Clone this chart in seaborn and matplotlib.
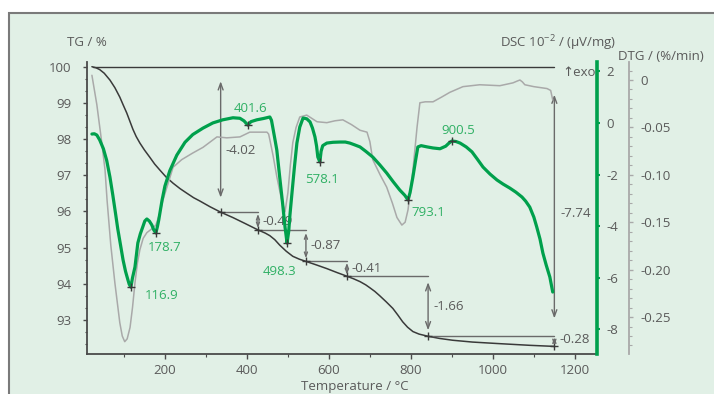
import matplotlib
matplotlib.use("Agg")
import matplotlib.pyplot as plt
import seaborn as sns
from matplotlib.patches import Rectangle
from matplotlib.ticker import MultipleLocator, AutoMinorLocator

# ---------------- data ----------------
tg_temp = [22, 32, 41, 52, 66, 78, 90, 98, 107, 115, 122, 130, 139, 150, 163, 175, 188, 203,
           220, 237, 254, 270, 285, 310, 336, 366, 395, 427, 445, 456, 468, 480, 496, 512,
           528, 544, 570, 595, 620, 644, 660, 676, 690, 700, 712, 724, 740, 756, 768, 780,
           792, 805, 820, 842, 870, 902, 950, 1010, 1090, 1150]
tg_val = [100.0, 99.97, 99.92, 99.82, 99.63, 99.42, 99.16, 98.95, 98.72, 98.48, 98.27, 98.07,
          97.89, 97.7, 97.5, 97.31, 97.14, 96.95, 96.78, 96.63, 96.5, 96.38, 96.29, 96.13,
          95.98, 95.83, 95.67, 95.49, 95.40, 95.33, 95.22, 95.07, 94.90, 94.76, 94.68, 94.62,
          94.52, 94.42, 94.31, 94.21, 94.14, 94.06, 93.97, 93.89, 93.79, 93.67, 93.50, 93.32,
          93.14, 92.95, 92.80, 92.68, 92.61, 92.55, 92.49, 92.44, 92.39, 92.35, 92.30, 92.27]

dsc_temp = [22, 28, 34, 41, 50, 58, 66, 73, 80, 85, 92, 98, 104, 110, 113, 117, 121, 127,
            134, 140, 146, 151, 156, 162, 168, 173, 178, 182, 185, 193, 200, 212, 229, 249,
            268, 293, 317, 341, 366, 383, 393, 402, 410, 424, 440, 456, 460, 463, 468, 473,
            480, 487, 493, 498, 502, 505, 510, 516, 522, 529, 537, 546, 554, 560, 566, 570,
            573, 578, 581, 585, 595, 610, 627, 640, 651, 663, 676, 690, 707, 724, 741, 757,
            773, 785, 793, 798, 805, 812, 817, 825, 840, 854, 871, 885, 893, 900, 910, 920,
            935, 949, 962, 976, 993, 1010, 1025, 1041, 1056, 1071, 1080, 1090, 1100, 1107,
            1115, 1122, 1130, 1139, 1146]
dsc_val = [-0.43, -0.42, -0.47, -0.66, -1.0, -1.45, -2.1, -2.8, -3.55, -4.1, -4.75, -5.31,
           -5.75, -6.09, -6.25, -6.36, -6.0, -5.58, -4.65, -4.3, -4.03, -3.8, -3.72, -3.8,
           -3.95, -4.15, -4.26, -4.0, -3.76, -3.0, -2.45, -1.85, -1.25, -0.75, -0.45, -0.2,
           0.0, 0.12, 0.2, 0.18, 0.08, -0.08, 0.05, 0.12, 0.17, 0.23, 0.1, -0.16, -0.6,
           -1.05, -2.09, -3.1, -4.03, -4.65, -4.2, -3.57, -2.71, -1.7, -0.78, -0.16, 0.19,
           0.16, 0.04, -0.2, -0.54, -0.9, -1.32, -1.51, -1.1, -0.88, -0.78, -0.75, -0.74,
           -0.74, -0.78, -0.85, -0.93, -1.1, -1.32, -1.62, -1.94, -2.28, -2.6, -2.8, -2.98,
           -2.7, -2.09, -1.4, -0.93, -0.88, -0.93, -0.97, -1.0, -0.9, -0.78, -0.70, -0.72,
           -0.78, -0.93, -1.12, -1.4, -1.71, -1.98, -2.21, -2.37, -2.52, -2.68, -2.87, -3.03,
           -3.26, -3.65, -4.03, -4.5, -5.04, -5.5, -5.97, -6.55]

dtg_temp = [22, 34, 46, 54, 59, 68, 78, 90, 96, 102, 108, 115, 121, 127, 133, 139, 147, 156,
            168, 178, 188, 195, 205, 220, 241, 268, 293, 327, 351, 383, 407, 449, 453, 456,
            464, 473, 485, 493, 500, 506, 512, 520, 529, 546, 571, 595, 615, 634, 655, 676,
            693, 700, 707, 725, 741, 755, 766, 778, 786, 793, 805, 815, 822, 835, 854, 875,
            895, 927, 968, 1017, 1049, 1060, 1066, 1072, 1078, 1100, 1132, 1141, 1146]
dtg_val = [0.005, -0.026, -0.066, -0.095, -0.127, -0.174, -0.214, -0.256, -0.270, -0.276,
           -0.273, -0.261, -0.240, -0.214, -0.193, -0.179, -0.167, -0.161, -0.157, -0.153,
           -0.140, -0.127, -0.113, -0.092, -0.084, -0.077, -0.071, -0.060, -0.061, -0.060,
           -0.055, -0.055, -0.057, -0.063, -0.080, -0.102, -0.127, -0.139, -0.119, -0.090,
           -0.066, -0.050, -0.039, -0.037, -0.044, -0.045, -0.043, -0.042, -0.047, -0.053,
           -0.055, -0.065, -0.084, -0.100, -0.113, -0.130, -0.145, -0.153, -0.150, -0.137,
           -0.095, -0.050, -0.024, -0.023, -0.023, -0.018, -0.013, -0.007, -0.005, -0.006,
           -0.003, -0.001, 0.000, -0.002, -0.005, -0.007, -0.009, -0.011, -0.021]

peak_temp = [116.9, 178.7, 401.6, 498.3, 578.1, 793.1, 900.5]
peak_dsc = [-6.36, -4.26, -0.08, -4.65, -1.51, -2.98, -0.70]

step_temp = [336, 427, 544, 644, 842, 1150]
step_level = [95.98, 95.49, 94.62, 94.21, 92.55, 92.27]
step_label = ["-4.02", "-0.49", "-0.87", "-0.41", "-1.66", "-0.28"]
total_label = "-7.74"
start_temp = 24
start_level = 100.0

x_ticks = [200, 400, 600, 800, 1000, 1200]
tg_ticks = [93, 94, 95, 96, 97, 98, 99, 100]
dsc_ticks = [-8, -6, -4, -2, 0, 2]
dtg_ticks = [0, -0.05, -0.10, -0.15, -0.20, -0.25]
dtg_tick_labels = ["0", "-0.05", "-0.10", "-0.15", "-0.20", "-0.25"]

# ---------------- style ----------------
sns.set_theme(style="white")
plt.rcParams["font.family"] = ["Open Sans", "DejaVu Sans"]
plt.rcParams["axes.unicode_minus"] = False
plt.rcParams["mathtext.fontset"] = "custom"
plt.rcParams["mathtext.rm"] = "Open Sans"
plt.rcParams["mathtext.it"] = "Open Sans"
plt.rcParams["mathtext.bf"] = "Open Sans"

W, H = 714, 394
TXT = "#5a5a5a"
DARK = "#3a3a3a"
GREEN = "#00a04c"
GREEN_TXT = "#2fb064"
GRAY = "#a9a9a9"
ANN = "#6a6a6a"
FS = 9.5

fig = plt.figure(figsize=(W / 100, H / 100), dpi=100, facecolor="white")
bg = Rectangle((9 / W, -0.05), 1.0, (H - 13) / H + 0.05, transform=fig.transFigure,
               facecolor="#e1f0e6", edgecolor="#7a7a7a", lw=1.5, zorder=0)
fig.add_artist(bg)

ax = fig.add_axes([87 / W, (H - 354) / H, (597 - 87) / W, (354 - 62) / H])
ax.set_facecolor("none")
axd = ax.twinx()
axg = ax.twinx()
for a in (axd, axg):
    a.set_facecolor("none")

sns.lineplot(x=tg_temp, y=tg_val, ax=ax, color=DARK, lw=1.1, sort=False, errorbar=None)
sns.lineplot(x=dtg_temp, y=dtg_val, ax=axd, color=GRAY, lw=1.1, sort=False, errorbar=None)
sns.lineplot(x=dsc_temp, y=dsc_val, ax=axg, color=GREEN, lw=2.3, sort=False, errorbar=None)
for a in (ax, axd, axg):
    for ln in a.get_lines():
        ln.set_solid_joinstyle("round")

ax.set_xlim(10, 1254)
ax.set_ylim(92.06, 100.13)
axg.set_ylim(-8.95, 2.36)
axd.set_ylim(-0.289, 0.019)
for a in (ax, axd, axg):
    a.set_xlabel("")
    a.set_ylabel("")
    for s in a.spines.values():
        s.set_visible(False)

ax.spines["left"].set_visible(True)
ax.spines["bottom"].set_visible(True)
for s in ("left", "bottom"):
    ax.spines[s].set_color("#4a4a4a")
    ax.spines[s].set_linewidth(1.3)
axg.spines["right"].set_visible(True)
axg.spines["right"].set_color(GREEN)
axg.spines["right"].set_linewidth(2.6)
axd.spines["right"].set_visible(True)
axd.spines["right"].set_position(("outward", 32 * 0.72))
axd.spines["right"].set_color(GRAY)
axd.spines["right"].set_linewidth(1.3)

# ticks
ax.set_xticks(x_ticks)
ax.xaxis.set_minor_locator(MultipleLocator(100))
ax.tick_params(axis="x", which="major", bottom=True, top=False, direction="out", length=3.5,
               width=1, color="#4a4a4a", labelsize=FS, labelcolor=TXT, pad=4)
ax.tick_params(axis="x", which="minor", bottom=True, direction="out", length=2.5, width=0.8,
               color="#4a4a4a")
ax.set_yticks(tg_ticks)
ax.yaxis.set_minor_locator(AutoMinorLocator(3))
ax.tick_params(axis="y", which="major", left=True, right=False, direction="out", length=3,
               width=1, color="#4a4a4a", labelsize=FS, labelcolor=TXT, pad=8)
ax.tick_params(axis="y", which="minor", left=True, right=False, direction="out", length=1.8,
               width=0.8, color="#4a4a4a")

axg.set_yticks(dsc_ticks)
axg.tick_params(axis="y", which="major", right=True, left=False, labelright=True,
                labelleft=False, direction="out", length=2.5, width=1.5, color=GREEN,
                labelsize=FS, labelcolor=TXT, pad=4)
axd.set_yticks(dtg_ticks, labels=dtg_tick_labels)
axd.yaxis.set_minor_locator(MultipleLocator(0.01))
axd.tick_params(axis="y", which="major", right=True, left=False, labelright=True,
                labelleft=False, direction="out", length=3, width=1, color=GRAY,
                labelsize=FS, labelcolor=TXT, pad=5)
axd.tick_params(axis="y", which="minor", right=True, left=False, direction="out",
                length=1.8, width=0.8, color=GRAY)
for a in (axd, axg):
    a.tick_params(axis="x", bottom=False, top=False, labelbottom=False)

# ---------------- TG step annotations ----------------
ax.plot([start_temp, step_temp[-1]], [start_level, start_level], color=DARK, lw=1.0)
prev_level = start_level
label_dy = [-11, 0, 0, 0, 0, 2]
for i, (t, lev, lab) in enumerate(zip(step_temp, step_level, step_label)):
    d = prev_level - lev
    if i > 0:
        ax.plot([step_temp[i - 1], t], [prev_level, prev_level], color=ANN, lw=1.0)
    ms = 8 if d > 1 else 5
    ax.annotate("", xy=(t, lev + 0.1 * d), xytext=(t, prev_level - 0.1 * d),
                arrowprops=dict(arrowstyle="<->,head_length=0.6,head_width=0.22",
                                color=ANN, lw=1.0, shrinkA=0, shrinkB=0, mutation_scale=ms))
    ax.annotate(lab, xy=(t, (prev_level + lev) / 2), xytext=(5, label_dy[i]),
                textcoords="offset pixels", ha="left", va="center", fontsize=FS, color=TXT)
    prev_level = lev

tot = start_level - step_level[-1]
ax.annotate("", xy=(step_temp[-1], step_level[-1] + 0.1 * tot),
            xytext=(step_temp[-1], start_level - 0.1 * tot),
            arrowprops=dict(arrowstyle="<->,head_length=0.6,head_width=0.22",
                            color=ANN, lw=1.0, shrinkA=0, shrinkB=0, mutation_scale=8))
ax.annotate(total_label, xy=(step_temp[-1], (start_level + step_level[-1]) / 2),
            xytext=(6, -7), textcoords="offset pixels", ha="left", va="center",
            fontsize=FS, color=TXT)
ax.plot(step_temp, step_level, "+", color=DARK, ms=6, mew=1.0)

# ---------------- DSC peak labels ----------------
peak_offsets = [(14, -8), (-8, -15), (-14, 16), (-24, -29), (-15, -18), (3, -13), (-11, 11)]
axg.plot(peak_temp, peak_dsc, "+", color=DARK, ms=6, mew=1.0, zorder=5)
for t, v, off in zip(peak_temp, peak_dsc, peak_offsets):
    axg.annotate(f"{t:.1f}", xy=(t, v), xytext=off, textcoords="offset pixels",
                 ha="left", va="center", fontsize=FS, color=GREEN_TXT)

# ---------------- axis titles ----------------
def ftext(px, py, s, **kw):
    fig.text(px / W, 1 - py / H, s, fontsize=FS, color=TXT, **kw)

ftext(67, 43, "TG / %", ha="left", va="center")
ftext(616, 43, "DSC 10$^{-2}$ / (\u00b5V/mg)", ha="right", va="center")
ftext(618, 57, "DTG / (%/min)", ha="left", va="center")
ftext(562, 73, "\u2191exo", ha="left", va="center")
ftext(355, 380, "Temperature / \u00b0C", ha="center", va="top")

fig.savefig("out.png", dpi=100, facecolor="white")
